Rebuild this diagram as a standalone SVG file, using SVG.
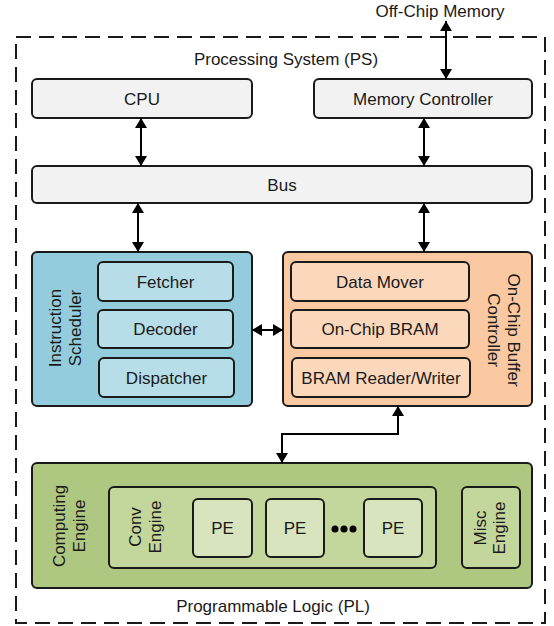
<svg xmlns="http://www.w3.org/2000/svg" width="554" height="626" viewBox="0 0 554 626">
<defs>
<marker id="ah" viewBox="0 0 10 12" refX="10" refY="6" markerWidth="10" markerHeight="12" markerUnits="userSpaceOnUse" orient="auto-start-reverse">
<path d="M0,0 L10,6 L0,12 z" fill="#000"/>
</marker>
<style>
text{font-family:"Liberation Sans",Arial,sans-serif;font-size:17px;fill:#1a1a1a;text-anchor:middle}
.box{stroke:#1a1a1a;stroke-width:2}
.gray{fill:#f2f2f2}
.is{fill:#93cddd}
.isub{fill:#b7dee8}
.ocb{fill:#fac9a1}
.osub{fill:#fbd8bc}
.ce{fill:#afc881}
.conv{fill:#c3d69b}
.pe{fill:#d7e4bd}
.conn{stroke:#000;stroke-width:2;fill:none;marker-start:url(#ah);marker-end:url(#ah)}
</style>
</defs>
<rect id="border" x="16" y="37" width="529" height="586" fill="none" stroke="#1a1a1a" stroke-width="2" stroke-dasharray="15 8"/>
<text x="440" y="17">Off-Chip Memory</text>
<text x="286" y="65">Processing System (PS)</text>
<text x="273" y="612">Programmable Logic (PL)</text>
<g id="cpu"><rect class="box gray" x="32" y="79" width="220" height="39" rx="5"/><text x="142" y="104.5">CPU</text></g>
<g id="memctrl"><rect class="box gray" x="314" y="79" width="218" height="39" rx="5"/><text x="423" y="104.5">Memory Controller</text></g>
<g id="bus"><rect class="box gray" x="32" y="166" width="500" height="37" rx="5"/><text x="282" y="190.5">Bus</text></g>
<g id="instruction-scheduler">
<rect class="box is" x="32" y="252" width="220" height="154" rx="5"/>
<text transform="translate(63,328) rotate(-90)"><tspan x="0" y="-2">Instruction</tspan><tspan x="0" y="18">Scheduler</tspan></text>
<g id="fetcher"><rect class="box isub" x="98" y="262" width="135" height="39" rx="5"/><text x="165.5" y="287.5">Fetcher</text></g>
<g id="decoder"><rect class="box isub" x="98" y="310" width="135" height="38" rx="5"/><text x="165.5" y="335">Decoder</text></g>
<g id="dispatcher"><rect class="box isub" x="99" y="358" width="135" height="39" rx="5"/><text x="166.5" y="383.5">Dispatcher</text></g>
</g>
<g id="on-chip-buffer-controller">
<rect class="box ocb" x="283" y="252" width="249" height="154" rx="5"/>
<text transform="translate(505,330) rotate(90)"><tspan x="0" y="-3">On-Chip Buffer</tspan><tspan x="0" y="17">Controller</tspan></text>
<g id="data-mover"><rect class="box osub" x="291" y="262" width="178" height="39" rx="5"/><text x="380" y="287.5">Data Mover</text></g>
<g id="onchip-bram"><rect class="box osub" x="291" y="310" width="178" height="38" rx="5"/><text x="380" y="335">On-Chip BRAM</text></g>
<g id="bram-rw"><rect class="box osub" x="292" y="358" width="178" height="39" rx="5"/><text x="381" y="383.5">BRAM Reader/Writer</text></g>
</g>
<g id="computing-engine">
<rect class="box ce" x="32" y="463" width="500" height="125" rx="5"/>
<text transform="translate(67,526) rotate(-90)"><tspan x="0" y="-2">Computing</tspan><tspan x="0" y="18">Engine</tspan></text>
<g id="conv-engine">
<rect class="box conv" x="109" y="487" width="327" height="81" rx="5"/>
<text transform="translate(143,527) rotate(-90)"><tspan x="0" y="-2">Conv</tspan><tspan x="0" y="18">Engine</tspan></text>
<g id="pe1"><rect class="box pe" x="193" y="499" width="59" height="58" rx="5"/><text x="222.5" y="534">PE</text></g>
<g id="pe2"><rect class="box pe" x="266" y="499" width="58" height="58" rx="5"/><text x="295" y="534">PE</text></g>
<g id="dots"><circle cx="335" cy="529" r="3.5" fill="#000"/><circle cx="344" cy="529" r="3.5" fill="#000"/><circle cx="353" cy="529" r="3.5" fill="#000"/></g>
<g id="pe3"><rect class="box pe" x="364" y="499" width="58" height="58" rx="5"/><text x="393" y="534">PE</text></g>
</g>
<g id="misc-engine">
<rect class="box conv" x="462" y="487" width="58" height="81" rx="5"/>
<text transform="translate(489,528) rotate(-90)"><tspan x="0" y="-3">Misc</tspan><tspan x="0" y="16">Engine</tspan></text>
</g>
</g>
<g id="connectors">
<path class="conn" d="M446,21 V79"/>
<path class="conn" d="M141,118 V166"/>
<path class="conn" d="M424,118 V166"/>
<path class="conn" d="M138,203 V252"/>
<path class="conn" d="M424,203 V252"/>
<path class="conn" d="M252,330 H283"/>
<path class="conn" d="M398,406 V434 H282 V463"/>
</g>
</svg>
